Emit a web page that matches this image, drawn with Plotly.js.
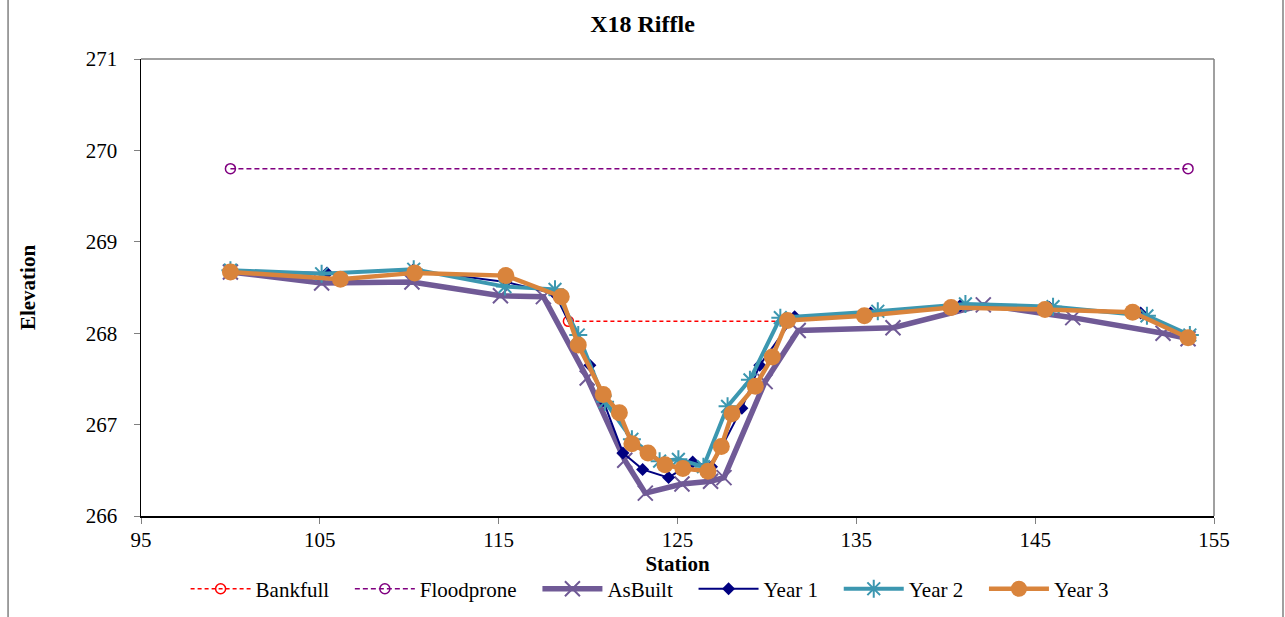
<!DOCTYPE html>
<html>
<head>
<meta charset="utf-8">
<script src="https://cdn.plot.ly/plotly-3.0.1.min.js"></script>
<style>html,body{margin:0;padding:0;background:#fff;}#chart{width:1285px;height:617px;}</style>
</head>
<body>
<div id="chart"></div>
<script>
// Data
const bankfullX = [118.9, 131.2];
const bankfullY = [268.13, 268.13];
const floodproneX = [100.0, 153.55];
const floodproneY = [269.8, 269.8];

const asBuiltX = [100.0, 105.1, 110.15, 115.1, 117.5, 119.95, 122.05, 123.2, 125.25, 126.85, 127.6, 129.9, 131.75, 137.05, 142.1, 147.1, 152.15, 153.55];
const asBuiltY = [268.67, 268.55, 268.56, 268.41, 268.40, 267.51, 266.61, 266.25, 266.35, 266.38, 266.42, 267.47, 268.03, 268.06, 268.31, 268.17, 268.00, 267.94];

const year1X = [100.0, 105.4, 110.2, 115.4, 118.15, 120.1, 120.85, 121.95, 123.05, 124.5, 125.85, 126.9, 128.6, 129.6, 131.55, 135.8, 140.8, 145.8, 150.9, 153.6];
const year1Y = [268.68, 268.66, 268.69, 268.56, 268.43, 267.65, 267.26, 266.69, 266.51, 266.42, 266.59, 266.54, 267.18, 267.65, 268.18, 268.22, 268.30, 268.28, 268.22, 267.96];

const year2X = [100.0, 105.1, 110.25, 115.35, 118.15, 119.45, 120.95, 122.45, 124.0, 125.05, 126.45, 127.8, 129.05, 130.75, 136.2, 141.1, 146.0, 151.25, 153.65];
const year2Y = [268.69, 268.65, 268.70, 268.51, 268.48, 267.98, 267.25, 266.84, 266.60, 266.62, 266.54, 267.20, 267.49, 268.17, 268.24, 268.32, 268.29, 268.19, 267.98];

const year3X = [100.0, 106.15, 110.3, 115.4, 118.5, 119.45, 120.85, 121.75, 122.45, 123.35, 124.3, 125.3, 126.7, 127.45, 128.05, 129.35, 130.3, 131.15, 135.45, 140.3, 145.55, 150.45, 153.55];
const year3Y = [268.67, 268.59, 268.66, 268.63, 268.40, 267.87, 267.33, 267.13, 266.79, 266.69, 266.56, 266.52, 266.49, 266.76, 267.12, 267.42, 267.74, 268.14, 268.19, 268.28, 268.26, 268.23, 267.95];

const seriesNames = ['Bankfull', 'Floodprone', 'AsBuilt', 'Year 1', 'Year 2', 'Year 3'];
const xTicks = [95, 105, 115, 125, 135, 145, 155];
const yTicks = [266, 267, 268, 269, 270, 271];

const pad = '\u00a0\u00a0\u00a0';
const traces = [
  {x: bankfullX, y: bankfullY, name: seriesNames[0] + pad, mode: 'lines+markers',
   line: {color: '#FF0000', width: 1.5, dash: '4px,3px'},
   marker: {symbol: 'circle-open', size: 10, color: '#FF0000', line: {width: 1.5}}},
  {x: floodproneX, y: floodproneY, name: seriesNames[1] + pad, mode: 'lines+markers',
   line: {color: '#800080', width: 1.5, dash: '5px,3px'},
   marker: {symbol: 'circle-open', size: 10, color: '#800080', line: {width: 1.5}}},
  {x: asBuiltX, y: asBuiltY, name: seriesNames[2] + pad, mode: 'lines+markers',
   line: {color: '#705A96', width: 5.5},
   marker: {symbol: 'x-thin-open', size: 15, color: '#705A96', line: {width: 2, color: '#705A96'}}},
  {x: year1X, y: year1Y, name: seriesNames[3] + pad, mode: 'lines+markers',
   line: {color: '#000080', width: 2},
   marker: {symbol: 'diamond', size: 10, color: '#000080'}},
  {x: year2X, y: year2Y, name: seriesNames[4] + pad, mode: 'lines+markers',
   line: {color: '#3C97B0', width: 4},
   marker: {symbol: 'asterisk-open', size: 15, color: '#3C97B0', line: {width: 2, color: '#3C97B0'}}},
  {x: year3X, y: year3Y, name: seriesNames[5], mode: 'lines+markers',
   line: {color: '#D9843C', width: 4.5},
   marker: {symbol: 'circle', size: 17, color: '#D9843C'}}
];

const font = {family: '"Liberation Serif", "Times New Roman", serif', color: '#000'};

const layout = {
  width: 1285, height: 617,
  margin: {l: 141, r: 71, t: 59, b: 101, autoexpand: false},
  paper_bgcolor: '#fff', plot_bgcolor: '#fff',
  font: Object.assign({size: 21}, font),
  showlegend: true,
  title: {text: '<b>X18 Riffle</b>', font: Object.assign({size: 24}, font), x: 0.5, xanchor: 'center', y: 0.962, yanchor: 'middle'},
  xaxis: {
    range: [95, 155], tickvals: xTicks, ticktext: xTicks.map(String), automargin: false,
    ticks: 'outside', ticklen: 6, tickcolor: '#808080', showgrid: false, zeroline: false,
    showline: true, linecolor: '#000', linewidth: 1.5, ticklabelstandoff: -2,
    tickfont: Object.assign({size: 21}, font),
    title: {text: '<b>Station</b>', font: Object.assign({size: 21}, font), standoff: 0}
  },
  yaxis: {
    range: [266, 271], tickvals: yTicks, ticktext: yTicks.map(String), automargin: false,
    ticks: 'outside', ticklen: 6, tickcolor: '#808080', showgrid: false, zeroline: false,
    showline: true, linecolor: '#000', linewidth: 1.5, ticklabelstandoff: 12,
    tickfont: Object.assign({size: 21}, font),
    title: {text: '<b>Elevation</b>', font: Object.assign({size: 21}, font), standoff: 44}
  },
  legend: {
    orientation: 'h', x: 0.474, xanchor: 'center', y: -0.16, yanchor: 'middle',
    font: Object.assign({size: 21}, font), bgcolor: 'rgba(0,0,0,0)', itemwidth: 60,
    tracegroupgap: 0
  },
  shapes: [
    {type: 'line', xref: 'paper', yref: 'paper', x0: 0, x1: 1, y0: 1, y1: 1, line: {color: '#808080', width: 1.5}},
    {type: 'line', xref: 'paper', yref: 'paper', x0: 1, x1: 1, y0: 0, y1: 1, line: {color: '#808080', width: 1.5}},
    {type: 'line', xref: 'paper', yref: 'paper', x0: -0.1239, x1: -0.1239, y0: -0.25, y1: 1.15, line: {color: '#808080', width: 1.5}},
    {type: 'line', xref: 'paper', yref: 'paper', x0: 1.0643, x1: 1.0643, y0: -0.25, y1: 1.15, line: {color: '#808080', width: 1.5}}
  ]
};

Plotly.newPlot('chart', traces, layout, {displayModeBar: false, staticPlot: true});
</script>
</body>
</html>
